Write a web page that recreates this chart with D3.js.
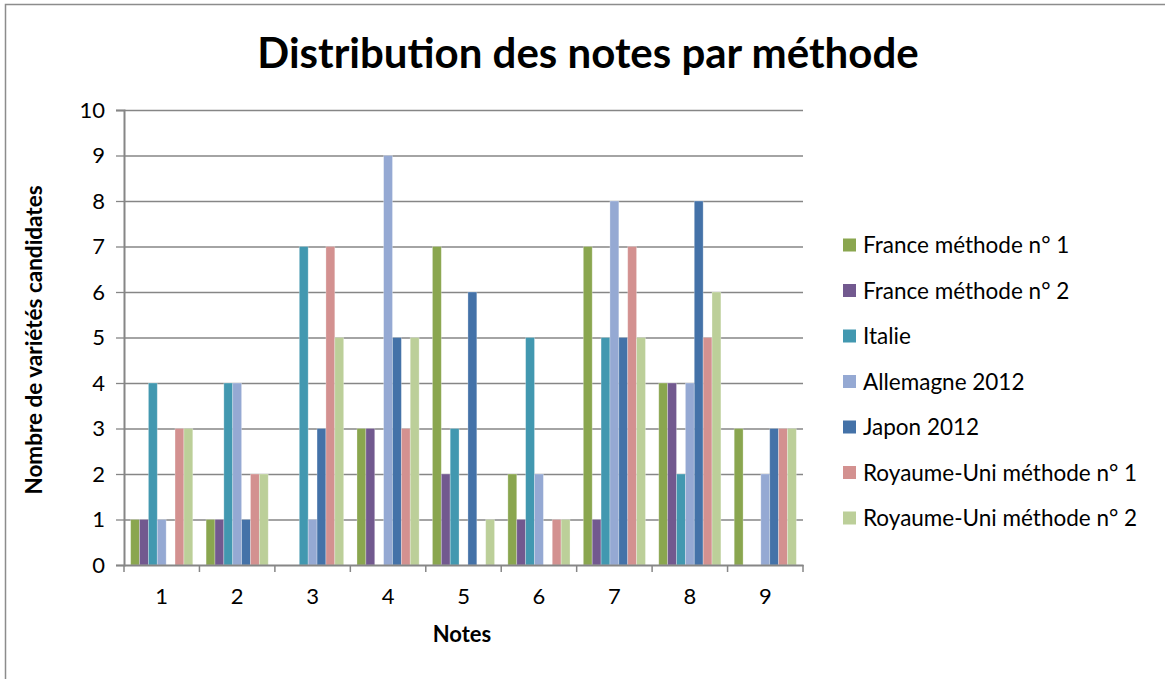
<!DOCTYPE html>
<html>
<head>
<meta charset="utf-8">
<script src="https://cdn.jsdelivr.net/npm/d3@7"></script>
<style>
  body { margin: 0; background: #fff; }
  text { font-family: Lato, "Open Sans", sans-serif; fill: #000; }
</style>
</head>
<body>
<div id="chart"></div>
<script>
// notes 1..9
var notes = ['1', '2', '3', '4', '5', '6', '7', '8', '9'];
var series = ['France méthode n° 1', 'France méthode n° 2', 'Italie', 'Allemagne 2012',
              'Japon 2012', 'Royaume-Uni méthode n° 1', 'Royaume-Uni méthode n° 2'];
var colors = ['#8aa64f', '#72598f', '#4298b0', '#95a9d3', '#4472a8', '#d39190', '#bccf99'];

var franceM1 = [1, 1, 0, 3, 7, 2, 7, 4, 3];
var franceM2 = [1, 1, 0, 3, 2, 1, 1, 4, 0];
var italie   = [4, 4, 7, 0, 3, 5, 5, 2, 0];
var allemagne = [1, 4, 1, 9, 0, 2, 8, 4, 2];
var japon    = [0, 1, 3, 5, 6, 0, 5, 8, 3];
var ruM1     = [3, 2, 7, 3, 0, 1, 7, 5, 3];
var ruM2     = [3, 2, 5, 5, 1, 1, 5, 6, 3];
var yTicks = [0, 1, 2, 3, 4, 5, 6, 7, 8, 9, 10];

var values = [franceM1, franceM2, italie, allemagne, japon, ruM1, ruM2];

var W = 1165, H = 679;
var pLeft = 124, pRight = 803, pTop = 110, pBottom = 565;

var svg = d3.select('#chart').append('svg')
  .attr('width', W)
  .attr('height', H);

svg.append('rect')
  .attr('x', 5.5).attr('y', 4.5)
  .attr('width', 1200).attr('height', 700)
  .style('fill', '#fff')
  .style('stroke', '#8c8c8c')
  .style('stroke-width', 1.5);

var x0 = d3.scaleBand().domain(notes).range([pLeft, pRight]).padding(0);
var bw = x0.bandwidth();
var x1 = d3.scaleBand().domain(series)
  .range([bw * 0.75 / 8.5, bw - bw * 0.75 / 8.5]).padding(0);
var y = d3.scaleLinear().domain([0, 10]).range([pBottom, pTop]);

// gridlines
svg.append('g')
  .selectAll('line')
  .data(yTicks.slice(1))
  .enter().append('line')
    .attr('x1', pLeft).attr('x2', pRight)
    .attr('y1', function(d) { return y(d) + 0.5; })
    .attr('y2', function(d) { return y(d) + 0.5; })
    .style('stroke', '#868686')
    .style('stroke-width', 1.3);

// bars
var groups = svg.append('g')
  .selectAll('g')
  .data(series)
  .enter().append('g')
    .style('fill', function(d, i) { return colors[i]; });

groups.selectAll('rect')
  .data(function(d, i) { return values[i].map(function(v, j) { return { s: d, note: notes[j], v: v }; }); })
  .enter().append('rect')
    .attr('x', function(d) { return x0(d.note) + x1(d.s); })
    .attr('width', x1.bandwidth())
    .attr('y', function(d) { return y(d.v); })
    .attr('height', function(d) { return y(0) - y(d.v); })
    .style('stroke', 'rgba(255,255,255,0.35)')
    .style('stroke-width', 0.8);

// y axis
var yAxis = svg.append('g')
  .attr('transform', 'translate(' + pLeft + ',0)')
  .call(d3.axisLeft(y).tickValues(yTicks).tickSize(8).tickPadding(11).tickFormat(d3.format('d')));
yAxis.select('.domain').style('stroke', '#868686').style('stroke-width', 2);
yAxis.selectAll('.tick line').style('stroke', '#868686').style('stroke-width', 1.3);
yAxis.selectAll('text').style('font-size', '22px').style('font-family', 'Lato, sans-serif');

// x axis
var xAxis = svg.append('g')
  .attr('transform', 'translate(0,' + pBottom + ')')
  .call(d3.axisBottom(x0).tickSize(0).tickPadding(23));
xAxis.select('.domain').style('stroke', '#868686').style('stroke-width', 2);
xAxis.selectAll('text').style('font-size', '22px').style('font-family', 'Lato, sans-serif');

var bounds = notes.map(function(n) { return x0(n); }).concat([pRight]);
svg.append('g')
  .selectAll('line')
  .data(bounds)
  .enter().append('line')
    .attr('x1', function(d) { return d; }).attr('x2', function(d) { return d; })
    .attr('y1', pBottom).attr('y2', pBottom + 7)
    .style('stroke', '#868686')
    .style('stroke-width', 1.5);

// titles
svg.append('text')
  .attr('x', 588).attr('y', 68)
  .attr('text-anchor', 'middle')
  .style('font-size', '42px')
  .style('font-weight', 'bold')
  .text('Distribution des notes par méthode');

svg.append('text')
  .attr('x', 462).attr('y', 642)
  .attr('text-anchor', 'middle')
  .style('font-size', '22px')
  .style('font-weight', 'bold')
  .text('Notes');

svg.append('text')
  .attr('transform', 'translate(42,340) rotate(-90)')
  .attr('text-anchor', 'middle')
  .style('font-size', '22.5px')
  .style('font-weight', 'bold')
  .text('Nombre de variétés candidates');

// legend
var legend = svg.append('g')
  .selectAll('g')
  .data(series)
  .enter().append('g')
    .attr('transform', function(d, i) { return 'translate(843,' + (245 + i * 45.5) + ')'; });

legend.append('rect')
  .attr('x', 0).attr('y', -6.5)
  .attr('width', 13).attr('height', 13)
  .style('fill', function(d, i) { return colors[i]; });

legend.append('text')
  .attr('x', 20).attr('y', 8)
  .style('font-size', '22.5px')
  .text(function(d) { return d; });
</script>
</body>
</html>
